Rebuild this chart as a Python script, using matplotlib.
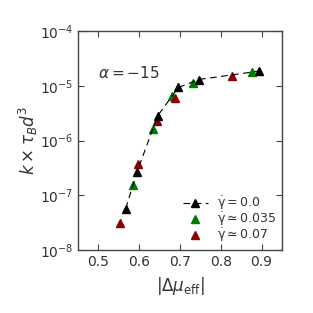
import matplotlib
matplotlib.use('Agg')
import matplotlib.pyplot as plt

# data
x_g0 = [0.567, 0.595, 0.645, 0.696, 0.746, 0.893]
y_g0 = [5.7e-8, 2.7e-7, 2.8e-6, 9.3e-6, 1.3e-5, 1.85e-5]
x_g1 = [0.585, 0.634, 0.680, 0.731, 0.876]
y_g1 = [1.55e-7, 1.6e-6, 6.6e-6, 1.1e-5, 1.8e-5]
x_g2 = [0.552, 0.598, 0.644, 0.689, 0.828]
y_g2 = [3.1e-8, 3.8e-7, 2.3e-6, 6.1e-6, 1.5e-5]

labels = [r'$\dot{\mathrm{\gamma}} = 0.0$', r'$\dot{\mathrm{\gamma}} \simeq 0.035$',
          r'$\dot{\mathrm{\gamma}} \simeq 0.07$']
xticks = [0.5, 0.6, 0.7, 0.8, 0.9]

txt = '#333333'
plt.rcParams['font.family'] = ['DejaVu Sans']
plt.rcParams['mathtext.fontset'] = 'dejavusans'

fig = plt.figure(figsize=(3.13, 3.13), dpi=100)
ax = fig.add_axes([0.249, 0.201, 0.652, 0.70])

ax.plot(x_g0, y_g0, '^', ls=(0, (6, 4)), lw=0.8, color='black', ms=6, label=labels[0], zorder=3)
ax.plot(x_g1, y_g1, '^', ls='none', color='#007a00', ms=6, label=labels[1])
ax.plot(x_g2, y_g2, '^', ls='none', color='#8b0000', ms=6, label=labels[2])

ax.set_yscale('log')
ax.set_xlim(0.45, 0.95)
ax.set_ylim(1e-8, 1e-4)
ax.set_xticks(xticks)
ax.minorticks_off()
ax.tick_params(direction='in', top=True, right=True, length=4, width=0.8,
               labelsize=10, colors='#444444', labelcolor=txt)
for s in ax.spines.values():
    s.set_color('#444444')
    s.set_linewidth(1.0)

ax.set_xlabel(r'$|\Delta\mu_{\rm eff}|$', fontsize=12, color=txt)
ax.set_ylabel(r'$k \times \tau_B d^3$', fontsize=12, color=txt, labelpad=0)
ax.text(0.10, 0.81, r'$\alpha = -15$', transform=ax.transAxes, fontsize=11,
        color=txt, va='center')

leg = ax.legend(loc='lower right', frameon=False, fontsize=9, handlelength=2.0,
                handletextpad=0.75, labelspacing=-0.12, borderaxespad=0.05)
for t in leg.get_texts():
    t.set_color(txt)

fig.savefig('out.png', dpi=100)
